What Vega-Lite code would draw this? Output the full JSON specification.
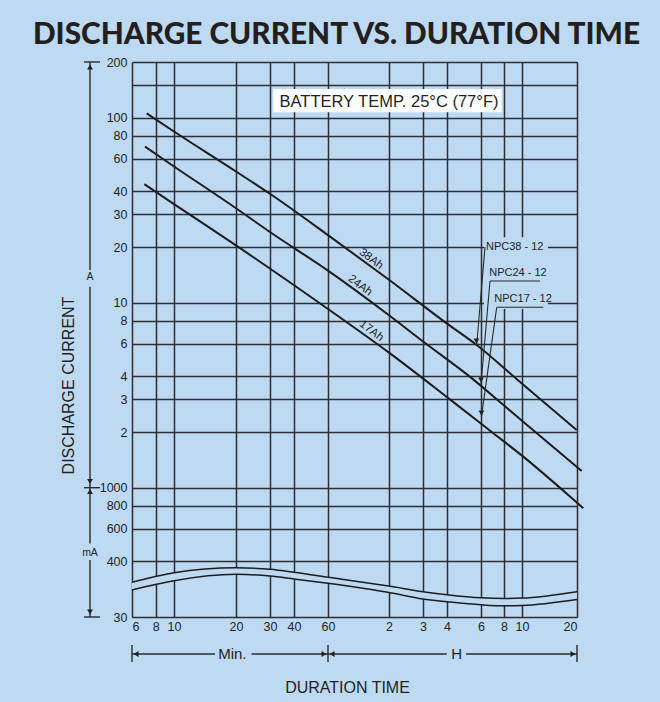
{
  "$schema": "https://vega.github.io/schema/vega-lite/v6.json",
  "width": 445,
  "height": 555,
  "autosize": {"type": "none"},
  "padding": {"left": 132, "top": 62, "right": 83, "bottom": 85},
  "background": "#bedaf2",
  "title": {
    "text": "DISCHARGE CURRENT VS. DURATION TIME",
    "font": "Lato",
    "fontWeight": 900,
    "fontSize": 29.8,
    "color": "#231f20",
    "anchor": "middle",
    "frame": "group",
    "dx": -18,
    "offset": -18,
    "baseline": "alphabetic"
  },
  "config": {"view": {"stroke": null}, "font": "Liberation Sans"},
  "datasets": {
    "band": [
      {"x": 6, "y": 0.308, "y2": 0.280},
      {"x": 10, "y": 0.347, "y2": 0.314},
      {"x": 20, "y": 0.369, "y2": 0.340},
      {"x": 30, "y": 0.362, "y2": 0.333},
      {"x": 40, "y": 0.349, "y2": 0.321},
      {"x": 60, "y": 0.328, "y2": 0.304},
      {"x": 120, "y": 0.294, "y2": 0.271},
      {"x": 180, "y": 0.274, "y2": 0.250},
      {"x": 240, "y": 0.264, "y2": 0.242},
      {"x": 360, "y": 0.254, "y2": 0.233},
      {"x": 480, "y": 0.252, "y2": 0.230},
      {"x": 600, "y": 0.253, "y2": 0.231},
      {"x": 1200, "y": 0.274, "y2": 0.249}
    ],
    "wave": [
      {"s": "u", "x": 6, "y": 0.308}, {"s": "u", "x": 10, "y": 0.347}, {"s": "u", "x": 20, "y": 0.369},
      {"s": "u", "x": 30, "y": 0.362}, {"s": "u", "x": 40, "y": 0.349}, {"s": "u", "x": 60, "y": 0.328},
      {"s": "u", "x": 120, "y": 0.294}, {"s": "u", "x": 180, "y": 0.274}, {"s": "u", "x": 240, "y": 0.264},
      {"s": "u", "x": 360, "y": 0.254}, {"s": "u", "x": 480, "y": 0.252}, {"s": "u", "x": 600, "y": 0.253},
      {"s": "u", "x": 1200, "y": 0.274},
      {"s": "l", "x": 6, "y": 0.280}, {"s": "l", "x": 10, "y": 0.314}, {"s": "l", "x": 20, "y": 0.340},
      {"s": "l", "x": 30, "y": 0.333}, {"s": "l", "x": 40, "y": 0.321}, {"s": "l", "x": 60, "y": 0.304},
      {"s": "l", "x": 120, "y": 0.271}, {"s": "l", "x": 180, "y": 0.250}, {"s": "l", "x": 240, "y": 0.242},
      {"s": "l", "x": 360, "y": 0.233}, {"s": "l", "x": 480, "y": 0.230}, {"s": "l", "x": 600, "y": 0.231},
      {"s": "l", "x": 1200, "y": 0.249}
    ],
    "mask": [{"x": 373.6, "x2": 832, "y": 22.6, "y2": 9.25}],
    "box": [{"x": 31.2, "x2": 465.8, "y": 142.9, "y2": 107}],
    "curves": [
      {"s": "38Ah", "x": 7.17, "y": 105.6}, {"s": "38Ah", "x": 10, "y": 84.2}, {"s": "38Ah", "x": 20, "y": 51.2},
      {"s": "38Ah", "x": 30, "y": 38.8}, {"s": "38Ah", "x": 60, "y": 23.2}, {"s": "38Ah", "x": 120, "y": 13.3},
      {"s": "38Ah", "x": 240, "y": 7.71}, {"s": "38Ah", "x": 342, "y": 5.91}, {"s": "38Ah", "x": 573, "y": 3.8},
      {"s": "38Ah", "x": 1195, "y": 2.05},
      {"s": "24Ah", "x": 7.03, "y": 69.7}, {"s": "24Ah", "x": 10, "y": 54.5}, {"s": "24Ah", "x": 20, "y": 32.4},
      {"s": "24Ah", "x": 30, "y": 24.1}, {"s": "24Ah", "x": 60, "y": 14.9}, {"s": "24Ah", "x": 120, "y": 8.55},
      {"s": "24Ah", "x": 181, "y": 6.15}, {"s": "24Ah", "x": 322, "y": 3.91}, {"s": "24Ah", "x": 480, "y": 2.78},
      {"s": "24Ah", "x": 600, "y": 2.3}, {"s": "24Ah", "x": 1273, "y": 1.23},
      {"s": "17Ah", "x": 6.97, "y": 43.7}, {"s": "17Ah", "x": 10, "y": 34.1}, {"s": "17Ah", "x": 20, "y": 20.4},
      {"s": "17Ah", "x": 60, "y": 9.25}, {"s": "17Ah", "x": 120, "y": 5.37}, {"s": "17Ah", "x": 243.5, "y": 3.05},
      {"s": "17Ah", "x": 411.5, "y": 2}, {"s": "17Ah", "x": 600, "y": 1.49}, {"s": "17Ah", "x": 1200, "y": 0.83},
      {"s": "17Ah", "x": 1299, "y": 0.775}
    ],
    "rules": [
      {"x": 3.6, "y": 200, "x2": 3.6, "y2": 15.0},
      {"x": 3.6, "y": 12.2, "x2": 3.6, "y2": 1},
      {"x": 3.6, "y": 1, "x2": 3.6, "y2": 0.50},
      {"x": 3.6, "y": 0.407, "x2": 3.6, "y2": 0.2},
      {"x": 3.347, "y": 200, "x2": 4.066, "y2": 200},
      {"x": 3.347, "y": 1, "x2": 4.066, "y2": 1},
      {"x": 3.347, "y": 0.2, "x2": 4.066, "y2": 0.2},
      {"x": 6, "y": 0.1262, "x2": 15.8, "y2": 0.1262},
      {"x": 24.1, "y": 0.1262, "x2": 60, "y2": 0.1262},
      {"x": 60, "y": 0.1262, "x2": 239, "y2": 0.1262},
      {"x": 301, "y": 0.1262, "x2": 1200, "y2": 0.1262},
      {"x": 6, "y": 0.1412, "x2": 6, "y2": 0.1143},
      {"x": 60, "y": 0.1412, "x2": 60, "y2": 0.1143},
      {"x": 1200, "y": 0.1412, "x2": 1200, "y2": 0.1143}
    ],
    "leaders": [
      {"x": 378.4, "y": 20, "x2": 342, "y2": 5.91},
      {"x": 402.7, "y": 13.1, "x2": 752.8, "y2": 13.1},
      {"x": 402.7, "y": 13.1, "x2": 360, "y2": 3.635},
      {"x": 437.8, "y": 9.44, "x2": 784.6, "y2": 9.44},
      {"x": 437.8, "y": 9.44, "x2": 362, "y2": 2.42}
    ],
    "heads": [
      {"x": 3.6, "y": 188, "shape": "triangle-up"},
      {"x": 3.6, "y": 1.08, "shape": "triangle-down"},
      {"x": 3.6, "y": 0.954, "shape": "triangle-up"},
      {"x": 3.6, "y": 0.2128, "shape": "triangle-down"},
      {"x": 6.3, "y": 0.1262, "shape": "triangle-left"},
      {"x": 57.2, "y": 0.1262, "shape": "triangle-right"},
      {"x": 62.8, "y": 0.1262, "shape": "triangle-left"},
      {"x": 1141, "y": 0.1262, "shape": "triangle-right"},
      {"x": 341, "y": 6.21, "shape": "triangle-down"},
      {"x": 360, "y": 3.82, "shape": "triangle-down"},
      {"x": 362, "y": 2.53, "shape": "triangle-down"}
    ],
    "tc": [
      {"x": 120, "y": 122, "t": "BATTERY TEMP. 25°C (77°F)", "fs": 16.5, "a": 0},
      {"x": 97.8, "y": 17.2, "t": "38Ah", "fs": 11.5, "a": 37},
      {"x": 86.3, "y": 12.35, "t": "24Ah", "fs": 11.5, "a": 37},
      {"x": 98.2, "y": 7.03, "t": "17Ah", "fs": 11.5, "a": 37},
      {"x": 3.6, "y": 13.8, "t": "A", "fs": 10.5, "a": 0},
      {"x": 3.6, "y": 0.4437, "t": "mA", "fs": 10.5, "a": 0},
      {"x": 19.2, "y": 0.1262, "t": "Min.", "fs": 15, "a": 0},
      {"x": 269.4, "y": 0.1262, "t": "H", "fs": 15, "a": 0}
    ],
    "tl": [
      {"x": 383, "y": 20, "t": "NPC38 - 12"},
      {"x": 399, "y": 14.4, "t": "NPC24 - 12"},
      {"x": 424.9, "y": 10.43, "t": "NPC17 - 12"}
    ]
  },
  "encoding": {
    "x": {
      "field": "x",
      "type": "quantitative",
      "scale": {"type": "log", "domain": [6, 10, 20, 60, 120, 360, 600, 1200], "range": [0, 42, 104, 196, 257, 349, 390, 445], "nice": false},
      "axis": {
        "values": [6, 8, 10, 20, 30, 40, 60, 120, 180, 240, 360, 480, 600, 1200],
        "labelExpr": "datum.value > 60 ? format(datum.value / 60, 'd') : format(datum.value, 'd')",
        "grid": true,
        "gridColor": "#2c2e33",
        "gridWidth": 1.5,
        "ticks": false,
        "domain": false,
        "labelPadding": 3,
        "labelFontSize": 12.5,
        "labelColor": "#231f20",
        "labelOverlap": false,
        "labelFlush": true,
        "title": "DURATION TIME",
        "titleFontSize": 16,
        "titleFontWeight": "normal",
        "titleColor": "#231f20",
        "titleX": 215,
        "titleY": 70,
        "titleBaseline": "middle",
        "titleAlign": "center"
      }
    },
    "y": {
      "field": "y",
      "type": "quantitative",
      "scale": {"type": "log", "domain": [0.2, 200], "nice": false},
      "axis": {
        "values": [0.2, 0.4, 0.6, 0.8, 1, 2, 3, 4, 6, 8, 10, 20, 30, 40, 60, 80, 100, 150, 200],
        "labelExpr": "datum.value == 150 ? '' : datum.value == 0.2 ? '30' : datum.value < 1.5 ? format(round(datum.value * 1000), 'd') : format(datum.value, 'd')",
        "grid": true,
        "gridColor": "#2c2e33",
        "gridWidth": 1.5,
        "ticks": false,
        "domain": false,
        "labelPadding": 5,
        "labelFontSize": 12.5,
        "labelColor": "#231f20",
        "labelOverlap": false,
        "title": "DISCHARGE CURRENT",
        "titleFontSize": 16,
        "titleFontWeight": "normal",
        "titleColor": "#231f20",
        "titleX": -64,
        "titleY": 323,
        "titleAngle": -90,
        "titleBaseline": "middle",
        "titleAlign": "center"
      }
    }
  },
  "layer": [
    {"data": {"name": "band"}, "mark": {"type": "area", "color": "#bedaf2", "interpolate": "monotone", "opacity": 1}, "encoding": {"y2": {"field": "y2"}}},
    {"data": {"name": "mask"}, "mark": {"type": "rect", "color": "#bedaf2", "opacity": 1}, "encoding": {"x2": {"field": "x2"}, "y2": {"field": "y2"}}},
    {"data": {"name": "box"}, "mark": {"type": "rect", "color": "#ffffff", "opacity": 1}, "encoding": {"x2": {"field": "x2"}, "y2": {"field": "y2"}}},
    {"data": {"name": "curves"}, "mark": {"type": "line", "color": "#1c1c1c", "strokeWidth": 2, "interpolate": "monotone"}, "encoding": {"detail": {"field": "s"}}},
    {"data": {"name": "wave"}, "mark": {"type": "line", "color": "#1c1c1c", "strokeWidth": 1.5, "interpolate": "monotone"}, "encoding": {"detail": {"field": "s"}}},
    {"data": {"name": "rules"}, "mark": {"type": "rule", "color": "#2a2a2a", "strokeWidth": 1.4}, "encoding": {"x2": {"field": "x2"}, "y2": {"field": "y2"}}},
    {"data": {"name": "leaders"}, "mark": {"type": "rule", "color": "#2a2a2a", "strokeWidth": 1.1}, "encoding": {"x2": {"field": "x2"}, "y2": {"field": "y2"}}},
    {"data": {"name": "heads"}, "mark": {"type": "point", "filled": true, "color": "#222222", "size": 34, "opacity": 1}, "encoding": {"shape": {"field": "shape", "type": "nominal", "scale": null}}},
    {"data": {"name": "tc"}, "mark": {"type": "text", "color": "#231f20", "align": "center", "baseline": "middle", "font": "Liberation Sans"}, "encoding": {"text": {"field": "t"}, "size": {"field": "fs", "type": "quantitative", "scale": null}, "angle": {"field": "a", "type": "quantitative", "scale": null}}},
    {"data": {"name": "tl"}, "mark": {"type": "text", "color": "#231f20", "align": "left", "baseline": "middle", "fontSize": 11, "font": "Liberation Sans"}, "encoding": {"text": {"field": "t"}}}
  ]
}
